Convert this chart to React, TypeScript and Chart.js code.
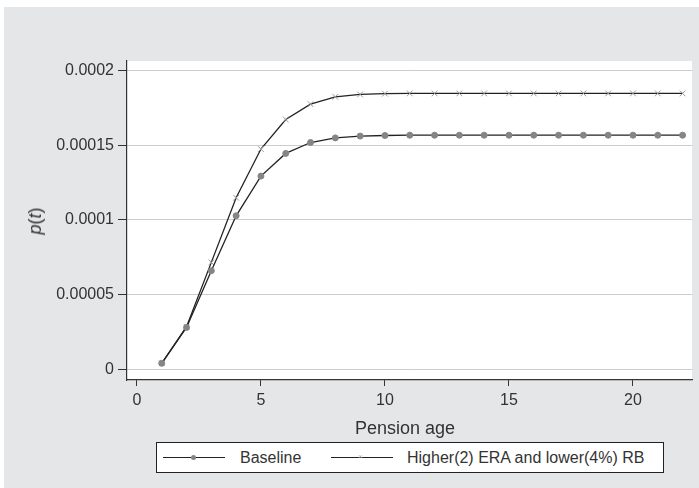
import React, { useEffect, useRef } from "react";
import { Chart, registerables } from "chart.js";

Chart.register(...registerables);

const ages = [1, 2, 3, 4, 5, 6, 7, 8, 9, 10, 11, 12, 13, 14, 15, 16, 17, 18, 19, 20, 21, 22];
const baseline = [
  0.000004, 0.000028, 0.000066, 0.0001028, 0.0001294, 0.0001446, 0.0001519, 0.000155,
  0.0001562, 0.0001566, 0.0001568, 0.0001568, 0.0001568, 0.0001568, 0.0001568, 0.0001568,
  0.0001568, 0.0001568, 0.0001568, 0.0001568, 0.0001568, 0.0001568,
];
const higher = [
  0.000004, 0.0000285, 0.0000716, 0.0001149, 0.0001475, 0.0001673, 0.0001776, 0.0001825,
  0.0001841, 0.0001846, 0.0001848, 0.0001848, 0.0001848, 0.0001848, 0.0001848, 0.0001848,
  0.0001848, 0.0001848, 0.0001848, 0.0001848, 0.0001848, 0.0001848,
];
const seriesNames = ["Baseline", "Higher(2) ERA and lower(4%) RB"];
const xTicks = [0, 5, 10, 15, 20];
const xTickLabels = ["0", "5", "10", "15", "20"];
const yTicks = [0, 0.00005, 0.0001, 0.00015, 0.0002];
const yTickLabels = ["0", "0.00005", "0.0001", "0.00015", "0.0002"];

const FONT = '"Liberation Sans", Arial, Helvetica, sans-serif';
const GREY = "#e5e6e8";

const bgPlugin = {
  id: "bgPlugin",
  beforeDraw(chart: any) {
    const { ctx, chartArea } = chart;
    ctx.save();
    ctx.fillStyle = "#ffffff";
    ctx.fillRect(0, 0, chart.width, chart.height);
    ctx.fillStyle = GREY;
    ctx.fillRect(4, 7, chart.width - 4, chart.height - 7);
    ctx.fillStyle = "#ffffff";
    ctx.fillRect(chartArea.left, chartArea.top, chartArea.right - chartArea.left, chartArea.bottom - chartArea.top);
    ctx.restore();
  },
};

export default function App() {
  const ref = useRef<HTMLCanvasElement | null>(null);

  useEffect(() => {
    if (!ref.current) return;
    const chart = new Chart(ref.current, {
      type: "line",
      data: {
        datasets: [
          {
            label: seriesNames[0],
            data: ages.map((a, i) => ({ x: a, y: baseline[i] })),
            borderColor: "#222222",
            borderWidth: 1.3,
            pointStyle: "circle",
            pointRadius: 3,
            pointBackgroundColor: "#858585",
            pointBorderColor: "#858585",
            pointBorderWidth: 1,
            tension: 0,
          },
          {
            label: seriesNames[1],
            data: ages.map((a, i) => ({ x: a, y: higher[i] })),
            borderColor: "#222222",
            borderWidth: 1.3,
            pointStyle: "crossRot",
            pointRadius: 4,
            pointBackgroundColor: "#9a9a9a",
            pointBorderColor: "#9a9a9a",
            pointBorderWidth: 1,
            tension: 0,
          },
        ],
      },
      options: {
        animation: false,
        responsive: false,
        devicePixelRatio: 1,
        layout: { padding: { top: 61, right: 7, left: 0, bottom: 0 } },
        plugins: {
          legend: { display: false },
          tooltip: { enabled: false },
          title: { display: false },
        },
        scales: {
          x: {
            type: "linear",
            min: -0.4,
            max: 22.38,
            afterFit: (s: any) => {
              s.height = 108;
            },
            afterBuildTicks: (s: any) => {
              s.ticks = xTicks.map((v) => ({ value: v }));
            },
            ticks: {
              callback: (v: any) => {
                const i = xTicks.indexOf(Number(v));
                return i >= 0 ? xTickLabels[i] : "";
              },
              font: { family: FONT, size: 16 },
              color: "#333333",
              padding: 5,
              maxRotation: 0,
              autoSkip: false,
            },
            grid: {
              drawOnChartArea: false,
              tickLength: 6,
              tickColor: "#333333",
              tickWidth: 1,
            },
            border: { display: true, color: "#333333", width: 1.2 },
          },
          y: {
            type: "linear",
            min: -0.0000072,
            max: 0.0002065,
            afterFit: (s: any) => {
              s.width = 127;
            },
            afterBuildTicks: (s: any) => {
              s.ticks = yTicks.map((v) => ({ value: v }));
            },
            ticks: {
              callback: (v: any) => {
                const i = yTicks.findIndex((t) => Math.abs(t - Number(v)) < 1e-9);
                return i >= 0 ? yTickLabels[i] : "";
              },
              font: { family: FONT, size: 16 },
              color: "#333333",
              padding: 4,
              autoSkip: false,
            },
            grid: {
              color: "#cccccc",
              lineWidth: 1,
              tickLength: 9,
              tickColor: "#333333",
              tickWidth: 1,
            },
            border: { display: true, color: "#333333", width: 1.2 },
          },
        },
      },
      plugins: [bgPlugin],
    });
    return () => chart.destroy();
  }, []);

  const text: React.CSSProperties = { position: "absolute", fontFamily: FONT, color: "#333333", whiteSpace: "nowrap" };

  return (
    <div style={{ position: "absolute", left: 0, top: 0, width: 699, height: 488, background: "#fff" }}>
      <canvas ref={ref} width={699} height={488} style={{ position: "absolute", left: 0, top: 0 }} />
      <div
        style={{
          ...text,
          fontSize: 18,
          left: 35,
          top: 221,
          transform: "translate(-50%, -50%) rotate(-90deg)",
          lineHeight: "20px",
        }}
      >
        <i>p</i>(<i>t</i>)
      </div>
      <div style={{ ...text, fontSize: 18, left: 405, top: 428, transform: "translate(-50%, -50%)", lineHeight: "20px" }}>
        Pension age
      </div>
      <div
        style={{
          position: "absolute",
          left: 156,
          top: 442,
          width: 508,
          height: 31,
          boxSizing: "border-box",
          border: "1px solid #222",
          background: "#fff",
        }}
      >
        <div style={{ position: "absolute", left: 6, top: 14, width: 62, height: 1, background: "#222" }} />
        <div
          style={{
            position: "absolute",
            left: 34,
            top: 12,
            width: 5,
            height: 5,
            borderRadius: "50%",
            background: "#858585",
          }}
        />
        <div style={{ ...text, fontSize: 16, left: 83, top: 15, transform: "translateY(-50%)", lineHeight: "18px" }}>
          {seriesNames[0]}
        </div>
        <div style={{ position: "absolute", left: 174, top: 14, width: 62, height: 1, background: "#222" }} />
        <div style={{ ...text, fontSize: 8, left: 201, top: 14, transform: "translateY(-50%)", color: "#aaa", lineHeight: "8px" }}>
          ×
        </div>
        <div style={{ ...text, fontSize: 16, left: 250, top: 15, transform: "translateY(-50%)", lineHeight: "18px" }}>
          {seriesNames[1]}
        </div>
      </div>
    </div>
  );
}
